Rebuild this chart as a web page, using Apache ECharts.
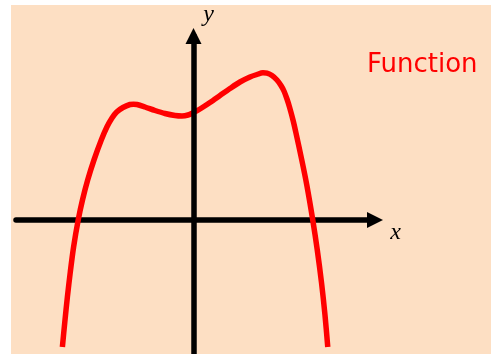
<!DOCTYPE html>
<html>
<head>
<meta charset="utf-8">
<script src="https://cdn.jsdelivr.net/npm/echarts@6/dist/echarts.min.js"></script>
<style>
  html, body { margin: 0; padding: 0; background: #ffffff; }
  #chart { position: absolute; left: 11px; top: 5px; width: 480px; height: 349px; }
</style>
</head>
<body>
<div id="chart"></div>
<script>
// Points (x, y in axis units)
const curveX = [-3.250, -3.190, -3.126, -3.054, -2.972, -2.858, -2.752, -2.623, -2.467, -2.286,
  -2.147, -2.020, -1.904, -1.748, -1.574, -1.487, -1.401, -1.202, -0.954, -0.706,
  -0.459, -0.285, -0.136, 0, 0.161, 0.409, 0.657, 0.905, 1.153, 1.401,
  1.574, 1.723, 1.822, 1.946, 2.070, 2.169, 2.243, 2.318, 2.380, 2.467,
  2.541, 2.685, 2.809, 2.957, 3.069, 3.175, 3.260, 3.329];
const curveY = [-3.175, -2.55, -1.925, -1.3, -0.675, 0, 0.5, 1.0, 1.5, 2.0,
  2.325, 2.55, 2.7, 2.8125, 2.8875, 2.895, 2.8875, 2.825, 2.7375, 2.6625,
  2.6125, 2.6, 2.625, 2.6875, 2.775, 2.9375, 3.1125, 3.2875, 3.45, 3.575,
  3.6375, 3.68, 3.67, 3.6125, 3.5, 3.3625, 3.225, 3.025, 2.825, 2.5,
  2.175, 1.5, 0.875, 0, -0.75, -1.575, -2.375, -3.175];
const xRange = [-4.4, 4.5];
const yRange = [-3.35, 4.6];
const seriesName = 'Function';
const axisNames = ['x', 'y'];

const data = curveX.map((x, i) => [x, curveY[i]]);

const chart = echarts.init(document.getElementById('chart'));
chart.setOption({
  backgroundColor: '#FDDFC3',
  animation: false,
  grid: { left: 5, right: 116, top: 31, bottom: 0 },
  xAxis: {
    type: 'value', min: xRange[0], max: xRange[1], z: 0,
    axisLine: { show: true, onZero: true, symbol: ['none', 'triangle'], symbolSize: [16, 16],
      lineStyle: { color: '#000', width: 5.5 } },
    axisTick: { show: false }, axisLabel: { show: false }, splitLine: { show: false }
  },
  yAxis: {
    type: 'value', min: yRange[0], max: yRange[1], z: 5,
    axisLine: { show: true, onZero: true, symbol: ['none', 'triangle'], symbolSize: [16, 16],
      lineStyle: { color: '#000', width: 5.5 } },
    axisTick: { show: false }, axisLabel: { show: false }, splitLine: { show: false }
  },
  graphic: [
    { type: 'text', left: 356, top: 47, style: { text: seriesName, fill: '#ff0000',
      font: '26px "Comic Sans MS", "DejaVu Sans", sans-serif' } },
    { type: 'text', x: 384.5, y: 227.5, style: { text: axisNames[0], fill: '#000',
      font: 'italic 24px "Liberation Serif", serif', textAlign: 'center', textVerticalAlign: 'middle' } },
    { type: 'text', x: 197.5, y: 9.5, style: { text: axisNames[1], fill: '#000',
      font: 'italic 24px "Liberation Serif", serif', textAlign: 'center', textVerticalAlign: 'middle' } }
  ],
  series: [{
    name: seriesName, type: 'line', data: data, smooth: 0.3, showSymbol: false, z: 2,
    clip: false,
    lineStyle: { color: '#ff0000', width: 5.5, cap: 'butt' }
  }]
});
</script>
</body>
</html>
